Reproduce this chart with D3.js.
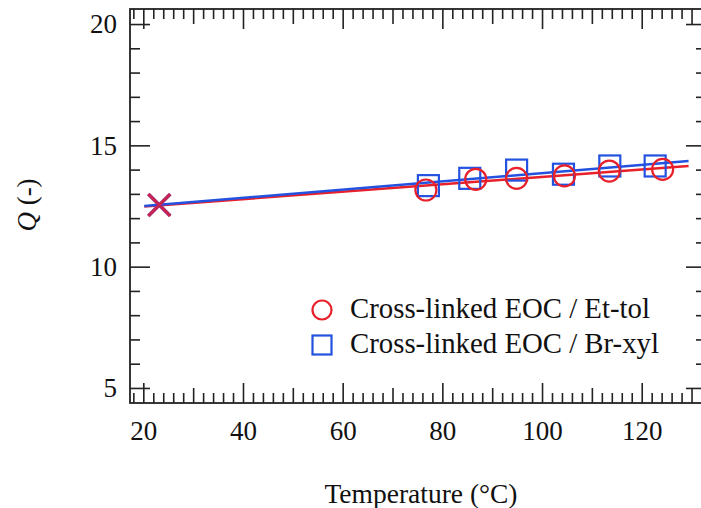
<!DOCTYPE html>
<html><head><meta charset="utf-8">
<script src="https://cdn.jsdelivr.net/npm/d3@7"></script>
<style>body{margin:0;background:#fff}svg{display:block}</style>
</head><body>
<svg id="c" width="701" height="508"></svg>
<script>
// ---- data ----
const seriesNames = ["Cross-linked EOC / Et-tol", "Cross-linked EOC / Br-xyl"];
const tempEt = [76.7, 86.7, 94.9, 104.5, 113.5, 124.2];
const qEt    = [13.16, 13.60, 13.64, 13.74, 13.94, 14.01];
const tempBr = [77.2, 85.5, 94.9, 104.3, 113.6, 122.7];
const qBr    = [13.34, 13.64, 13.98, 13.81, 14.15, 14.15];
const refTemp = [23.2];
const refQ = [12.54];
const fitT = [20.2, 129.4];
const fitEtQ = [12.48, 14.15];
const fitBrQ = [12.50, 14.35];
const xTickLabels = [20, 40, 60, 80, 100, 120];
const yTickLabels = [5, 10, 15, 20];

const RED = "#e8202a", BLUE = "#2452e0", AX = "#222";
const FONT = "Liberation Serif";
const svg = d3.select("#c");
const L = 130, R = 706, T = 9, B = 403;
const x = d3.scaleLinear().domain([17.33, 132.9]).range([L, R]);
const y = d3.scaleLinear().domain([4.38, 20.62]).range([B, T]);

// ticks
const xMinor = d3.range(18, 133, 2);
const yMinor = d3.range(5, 21, 1);
const xLen = v => v % 20 === 0 ? 20 : (v % 10 === 0 ? 15 : 10);
const yLen = v => v % 5 === 0 ? 20 : 10;

const axisG = svg.append("g");
function drawAxis(scale, orient, vals, lenF, pos, labels) {
  const ax = (orient === "bottom" ? d3.axisBottom(scale) : orient === "top" ? d3.axisTop(scale) :
              orient === "left" ? d3.axisLeft(scale) : d3.axisRight(scale))
    .tickValues(vals).tickSizeOuter(0).tickSizeInner(0)
    .tickFormat(d => labels && labels.includes(d) ? d : "");
  const g = axisG.append("g")
    .attr("transform", (orient === "bottom" || orient === "top") ? `translate(0,${pos})` : `translate(${pos},0)`)
    .call(ax);
  g.attr("font-family", null).attr("font-size", null);
  g.select(".domain").remove();
  const inward = (orient === "bottom") ? -1 : (orient === "top") ? 1 : (orient === "left") ? 1 : -1;
  g.selectAll(".tick line").each(function(d) {
    const l = lenF(d) * inward;
    if (orient === "bottom" || orient === "top") d3.select(this).attr("y2", l);
    else d3.select(this).attr("x2", l);
  }).attr("stroke", AX).attr("stroke-width", 1.6);
  g.selectAll(".tick text").style("font-family", FONT).style("font-size", "27px").attr("fill", "#111");
  if (orient === "bottom") g.selectAll(".tick text").attr("y", 37).attr("dy", 0);
  if (orient === "left") g.selectAll(".tick text").attr("x", -13).attr("dy", "0.33em");
  return g;
}
drawAxis(x, "bottom", xMinor, xLen, B, xTickLabels);
drawAxis(x, "top", xMinor, xLen, T, null);
drawAxis(y, "left", yMinor, yLen, L, yTickLabels);
drawAxis(y, "right", yMinor, yLen, R, null);

// frame
axisG.append("rect").attr("x", L).attr("y", T).attr("width", R - L).attr("height", B - T)
  .attr("fill", "none").attr("stroke", AX).attr("stroke-width", 1.8);

// fit lines
const line = d3.line().x(d => x(d[0])).y(d => y(d[1]));
svg.append("path").datum(fitT.map((t, i) => [t, fitEtQ[i]])).attr("d", line)
  .attr("fill", "none").attr("stroke", RED).attr("stroke-width", 2.5);
svg.append("path").datum(fitT.map((t, i) => [t, fitBrQ[i]])).attr("d", line)
  .attr("fill", "none").attr("stroke", BLUE).attr("stroke-width", 2.5);

// reference cross
const cs = 11;
refTemp.forEach((t, i) => {
  const cx = x(t), cy = y(refQ[i]);
  const g = svg.append("g");
  [[-1,-1,1,1],[-1,1,1,-1]].forEach(p => {
    g.append("line").attr("x1", cx + p[0]*cs).attr("y1", cy + p[1]*cs).attr("x2", cx + p[2]*cs).attr("y2", cy + p[3]*cs)
      .attr("stroke", "#a02c78").attr("stroke-width", 3.8);
    g.append("line").attr("x1", cx + p[0]*cs).attr("y1", cy + p[1]*cs).attr("x2", cx + p[2]*cs).attr("y2", cy + p[3]*cs)
      .attr("stroke", "#e82030").attr("stroke-width", 1.6).attr("opacity", 0.85);
  });
});

// squares
const sq = 21;
svg.append("g").selectAll("rect").data(tempBr).join("rect")
  .attr("x", (d, i) => x(d) - sq/2).attr("y", (d, i) => y(qBr[i]) - sq/2)
  .attr("width", sq).attr("height", sq).attr("fill", "none").attr("stroke", BLUE).attr("stroke-width", 2.2);
// circles
svg.append("g").selectAll("circle").data(tempEt).join("circle")
  .attr("cx", d => x(d)).attr("cy", (d, i) => y(qEt[i])).attr("r", 10.5)
  .attr("fill", "none").attr("stroke", RED).attr("stroke-width", 2.2);

// legend
const lg = svg.append("g");
lg.append("circle").attr("cx", 322).attr("cy", 310).attr("r", 9.5).attr("fill", "none").attr("stroke", RED).attr("stroke-width", 2.2);
lg.append("rect").attr("x", 322 - 9.5).attr("y", 345 - 9.5).attr("width", 19).attr("height", 19).attr("fill", "none").attr("stroke", BLUE).attr("stroke-width", 2.2);
lg.append("text").attr("x", 350).attr("y", 318).text(seriesNames[0]);
lg.append("text").attr("x", 350).attr("y", 353).text(seriesNames[1]);
lg.selectAll("text").style("font-family", FONT).style("font-size", "28.8px").attr("fill", "#111");

// axis titles
svg.append("text").attr("x", 421).attr("y", 503).attr("text-anchor", "middle")
  .style("font-family", FONT).style("font-size", "27.5px").attr("fill", "#111").text("Temperature (°C)");
const yt = svg.append("text").attr("transform", "translate(36,205) rotate(-90)").attr("text-anchor", "middle")
  .style("font-family", FONT).style("font-size", "27px").attr("fill", "#111");
yt.append("tspan").attr("font-style", "italic").text("Q");
yt.append("tspan").text(" (-)");
</script>
</body></html>
